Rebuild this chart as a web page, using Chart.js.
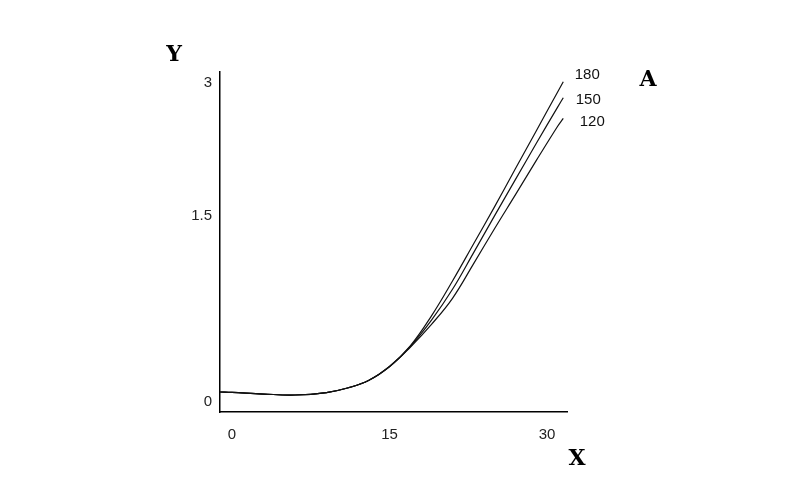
<!DOCTYPE html>
<html>
<head>
<meta charset="utf-8">
<script src="https://cdn.jsdelivr.net/npm/chart.js@4/dist/chart.umd.min.js"></script>
<style>
  html, body { margin: 0; padding: 0; background: #fff; }
  #wrap { width: 799px; height: 502px; position: relative; }
</style>
</head>
<body>
<div id="wrap"><canvas id="chart"></canvas></div>
<script>
const xValues = [-1.14, 0, 3, 6, 9, 11, 13, 15, 17, 19, 21, 23, 25, 27, 29, 31, 31.55];

// three curves, they share the low part and split after x ~ 17
const series180 = [0.088, 0.084, 0.069, 0.060, 0.083, 0.126, 0.196, 0.328, 0.525, 0.805, 1.133, 1.481, 1.831, 2.191, 2.550, 2.910, 3.009];
const series150 = [0.088, 0.084, 0.069, 0.060, 0.083, 0.126, 0.196, 0.328, 0.519, 0.765, 1.055, 1.398, 1.746, 2.089, 2.432, 2.767, 2.858];
const series120 = [0.088, 0.084, 0.069, 0.060, 0.083, 0.126, 0.196, 0.326, 0.512, 0.725, 0.970, 1.294, 1.625, 1.946, 2.270, 2.587, 2.664];
const seriesNames = ['180', '150', '120'];

// tick labels (the picture spaces them unevenly)
const xTickValues = [0, 15, 30];
const xTickLabels = ['0', '15', '30'];
const yTickValues = [0, 1.75, 3];
const yTickLabels = ['0', '1.5', '3'];

function toPoints(ys) {
    return xValues.map(function(x, i) { return { x: x, y: ys[i] }; });
}

// curve names next to line ends, plus the axis letters
const labelPlugin = {
    id: 'labels',
    afterDatasetsDraw(chart) {
        const ctx = chart.ctx;
        const offsets = [[24, -7], [25, 2], [29, 4]];
        ctx.save();
        ctx.fillStyle = '#111';
        ctx.font = '15px "Liberation Sans", Arial, sans-serif';
        ctx.textAlign = 'center';
        ctx.textBaseline = 'middle';
        chart.data.datasets.forEach(function(ds, i) {
            const meta = chart.getDatasetMeta(i);
            const last = meta.data[meta.data.length - 1];
            ctx.fillText(seriesNames[i], last.x + offsets[i][0], last.y + offsets[i][1]);
        });

        const area = chart.chartArea;
        ctx.font = 'bold 22px "DejaVu Serif", serif';
        ctx.fillStyle = '#000';
        ctx.fillText('Y', area.left - 46, area.top - 17);
        ctx.fillText('A', area.right + 81, area.top + 8);
        ctx.fillText('X', area.right + 10, area.bottom + 47);
        ctx.restore();
    }
};

const ctx = document.getElementById('chart');
new Chart(ctx, {
    type: 'line',
    data: {
        datasets: [series180, series150, series120].map(function(ys, i) {
            return {
                label: seriesNames[i],
                data: toPoints(ys),
                borderColor: '#111',
                borderWidth: 1.2,
                pointRadius: 0,
                fill: false,
                tension: 0.4
            };
        })
    },
    options: {
        responsive: true,
        maintainAspectRatio: false,
        animation: false,
        layout: {
            padding: { top: 72, right: 232, left: 0, bottom: 0 }
        },
        plugins: {
            legend: { display: false },
            tooltip: { enabled: false }
        },
        scales: {
            x: {
                type: 'linear',
                min: -12 / 10.5,
                max: 335 / 10.5,
                afterFit: function(s) { s.height = 90; },
                afterBuildTicks: function(s) {
                    s.ticks = xTickValues.map(function(v) { return { value: v }; });
                },
                grid: { display: false, drawTicks: false },
                border: { display: true, color: '#000', width: 1.5 },
                ticks: {
                    padding: 14,
                    color: '#222',
                    font: { family: '"Liberation Sans", Arial, sans-serif', size: 15 },
                    maxRotation: 0,
                    callback: function(value, index) { return xTickLabels[index]; }
                }
            },
            y: {
                type: 'linear',
                min: -0.1,
                max: 3.1,
                afterFit: function(s) { s.width = 220; },
                afterBuildTicks: function(s) {
                    s.ticks = yTickValues.map(function(v) { return { value: v }; });
                },
                grid: { display: false, drawTicks: false },
                border: { display: true, color: '#000', width: 1.5 },
                ticks: {
                    padding: 8,
                    color: '#222',
                    font: { family: '"Liberation Sans", Arial, sans-serif', size: 15 },
                    callback: function(value, index) { return yTickLabels[index]; }
                }
            }
        }
    },
    plugins: [labelPlugin]
});
</script>
</body>
</html>
